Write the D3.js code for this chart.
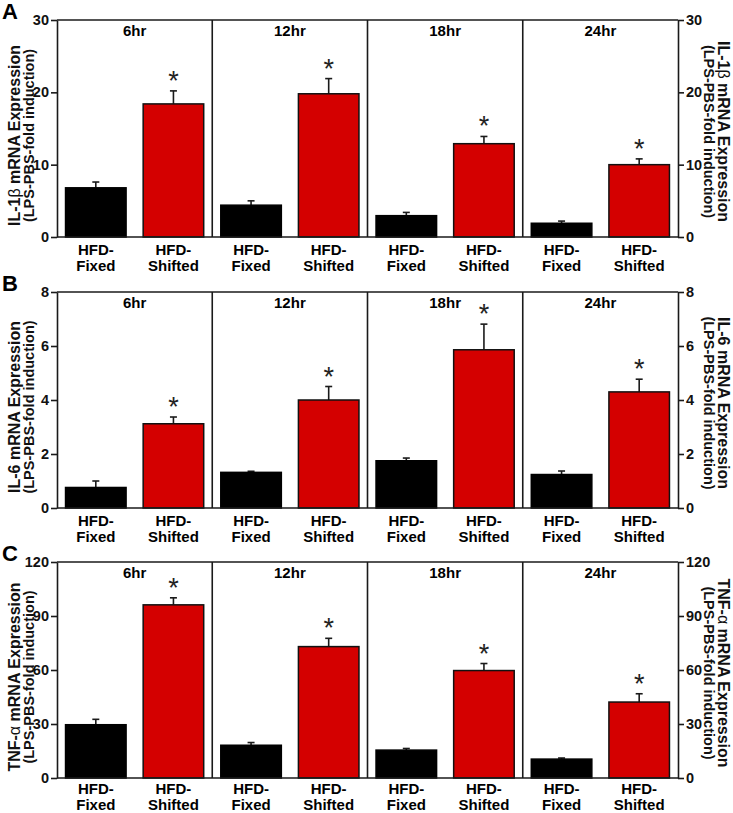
<!DOCTYPE html>
<html><head><meta charset="utf-8">
<script src="https://cdn.jsdelivr.net/npm/d3@7"></script>
<style>
html,body{margin:0;padding:0;background:#fff;}
svg{display:block;font-family:"Liberation Sans",Arial,sans-serif;}
</style></head>
<body>
<svg id="chart" width="733" height="813"></svg>
<script>
// ---- data ----
const timepoints = ["6hr", "12hr", "18hr", "24hr"];
const groups = ["HFD-Fixed", "HFD-Shifted"];
const groupLines = [["HFD-", "Fixed"], ["HFD-", "Shifted"]];

const il1bFixed = [6.8, 4.4, 2.95, 1.9];
const il1bFixedSem = [0.8, 0.6, 0.45, 0.3];
const il1bShifted = [18.4, 19.8, 12.9, 10.0];
const il1bShiftedSem = [1.8, 2.1, 1.0, 0.8];

const il6Fixed = [0.76, 1.32, 1.75, 1.24];
const il6FixedSem = [0.24, 0.04, 0.1, 0.13];
const il6Shifted = [3.12, 4.0, 5.86, 4.3];
const il6ShiftedSem = [0.25, 0.5, 0.95, 0.47];

const tnfFixed = [29.6, 18.2, 15.5, 10.5];
const tnfFixedSem = [3.0, 1.5, 0.9, 0.6];
const tnfShifted = [96.2, 73.0, 59.7, 42.2];
const tnfShiftedSem = [3.9, 4.6, 3.9, 4.6];

const il1bTicks = [0, 10, 20, 30];
const il6Ticks = [0, 2, 4, 6, 8];
const tnfTicks = [0, 30, 60, 90, 120];

const significant = [false, true]; // asterisk on Shifted bars

const panels = [
  {letter: "A", gene: ["IL-1", "β", " mRNA Expression"], fixed: il1bFixed, fixedSem: il1bFixedSem,
   shifted: il1bShifted, shiftedSem: il1bShiftedSem, ticks: il1bTicks, top: 20, bottom: 237, lab: [18, 34]},
  {letter: "B", gene: ["IL-6  ", "", "mRNA Expression"], fixed: il6Fixed, fixedSem: il6FixedSem,
   shifted: il6Shifted, shiftedSem: il6ShiftedSem, ticks: il6Ticks, top: 292, bottom: 508, lab: [18, 34]},
  {letter: "C", gene: ["TNF-", "α", " mRNA Expression"], fixed: tnfFixed, fixedSem: tnfFixedSem,
   shifted: tnfShifted, shiftedSem: tnfShiftedSem, ticks: tnfTicks, top: 562, bottom: 778, lab: [15.5, 31.5]}
];

// ---- layout ----
const svg = d3.select("#chart");
const left = 57, right = 678;
const lineCol = "#1a1a1a", lw = 1.6;
const redCol = "#d40000";

const xFacet = d3.scaleBand().domain(timepoints).range([left, right]).padding(0);
const xInner = d3.scaleBand().domain(groups).range([0, xFacet.bandwidth()])
  .paddingInner(0.22).paddingOuter(0.11);

panels.forEach(p => {
  const g = svg.append("g");
  const y = d3.scaleLinear().domain([0, d3.max(p.ticks)]).range([p.bottom, p.top]);

  // panel letter
  g.append("text").attr("x", 2).attr("y", p.top - 1)
    .attr("font-size", 22).attr("font-weight", "bold").text(p.letter);

  // bars
  timepoints.forEach((tp, i) => {
    const fx = xFacet(tp);
    const vals = [p.fixed[i], p.shifted[i]];
    const sems = [p.fixedSem[i], p.shiftedSem[i]];
    groups.forEach((gr, j) => {
      const bx = fx + xInner(gr), bw = xInner.bandwidth();
      const v = vals[j], e = v + sems[j];
      const cx = bx + bw / 2;
      // error bar
      g.append("line").attr("x1", cx).attr("x2", cx).attr("y1", y(v)).attr("y2", y(e))
        .attr("stroke", lineCol).attr("stroke-width", 1.6);
      g.append("line").attr("x1", cx - 3.5).attr("x2", cx + 3.5).attr("y1", y(e)).attr("y2", y(e))
        .attr("stroke", lineCol).attr("stroke-width", 1.6);
      g.append("rect").attr("x", bx).attr("y", y(v)).attr("width", bw).attr("height", y(0) - y(v))
        .attr("fill", j === 0 ? "#000" : redCol)
        .attr("stroke", j === 0 ? "#000" : "#111").attr("stroke-width", 1.5);
      if (significant[j]) {
        g.append("text").attr("x", cx).attr("y", y(e) - 1)
          .attr("text-anchor", "middle").attr("font-size", 27).attr("fill", "#222").text("*");
      }
      // x labels
      g.append("text").attr("x", cx).attr("y", p.bottom + p.lab[0])
        .attr("text-anchor", "middle").attr("font-size", 15).attr("font-weight", "bold")
        .text(groupLines[j][0]);
      g.append("text").attr("x", cx).attr("y", p.bottom + p.lab[1])
        .attr("text-anchor", "middle").attr("font-size", 15).attr("font-weight", "bold")
        .text(groupLines[j][1]);
    });
    // facet title
    g.append("text").attr("x", fx + xFacet.bandwidth() / 2).attr("y", p.top + 16)
      .attr("text-anchor", "middle").attr("font-size", 15).attr("font-weight", "bold").text(tp);
    // divider
    if (i > 0) {
      g.append("line").attr("x1", fx).attr("x2", fx).attr("y1", p.top).attr("y2", p.bottom)
        .attr("stroke", lineCol).attr("stroke-width", lw);
    }
  });

  // frame top & bottom
  g.append("line").attr("x1", left).attr("x2", right).attr("y1", p.top).attr("y2", p.top)
    .attr("stroke", lineCol).attr("stroke-width", lw);
  g.append("line").attr("x1", left).attr("x2", right).attr("y1", p.bottom).attr("y2", p.bottom)
    .attr("stroke", lineCol).attr("stroke-width", lw);

  // axes
  const axL = g.append("g").attr("transform", `translate(${left},0)`)
    .call(d3.axisLeft(y).tickValues(p.ticks).tickSize(6).tickSizeOuter(0).tickPadding(2));
  const axR = g.append("g").attr("transform", `translate(${right},0)`)
    .call(d3.axisRight(y).tickValues(p.ticks).tickSize(6).tickSizeOuter(0).tickPadding(2));
  [axL, axR].forEach(ax => {
    ax.select(".domain").attr("stroke", lineCol).attr("stroke-width", lw);
    ax.selectAll(".tick line").attr("stroke", lineCol).attr("stroke-width", lw);
    ax.selectAll(".tick text").attr("font-size", 14.5).attr("font-weight", "bold")
      .attr("font-family", "Liberation Sans, Arial, sans-serif").attr("fill", "#111");
  });

  // y titles
  const yc = (p.top + p.bottom) / 2;
  function title(tx, ty, rot, l1x, l2x) {
    const t = g.append("g").attr("transform", `translate(${tx},${ty}) rotate(${rot})`);
    const t1 = t.append("text").attr("x", 0).attr("y", l1x).attr("text-anchor", "middle")
      .attr("font-size", 16).attr("font-weight", "bold").attr("fill", "#111");
    t1.append("tspan").text(p.gene[0]);
    if (p.gene[1]) t1.append("tspan").attr("font-weight", "normal").text(p.gene[1]);
    t1.append("tspan").text(p.gene[2]);
    t.append("text").attr("x", 0).attr("y", l2x).attr("text-anchor", "middle")
      .attr("font-size", 14.5).attr("font-weight", "bold").attr("fill", "#111")
      .text("(LPS-PBS-fold induction)");
  }
  title(0, yc + 7, -90, 20, 34);
  title(733, yc + 3, 90, 15, 29);
});
</script>
</body></html>
